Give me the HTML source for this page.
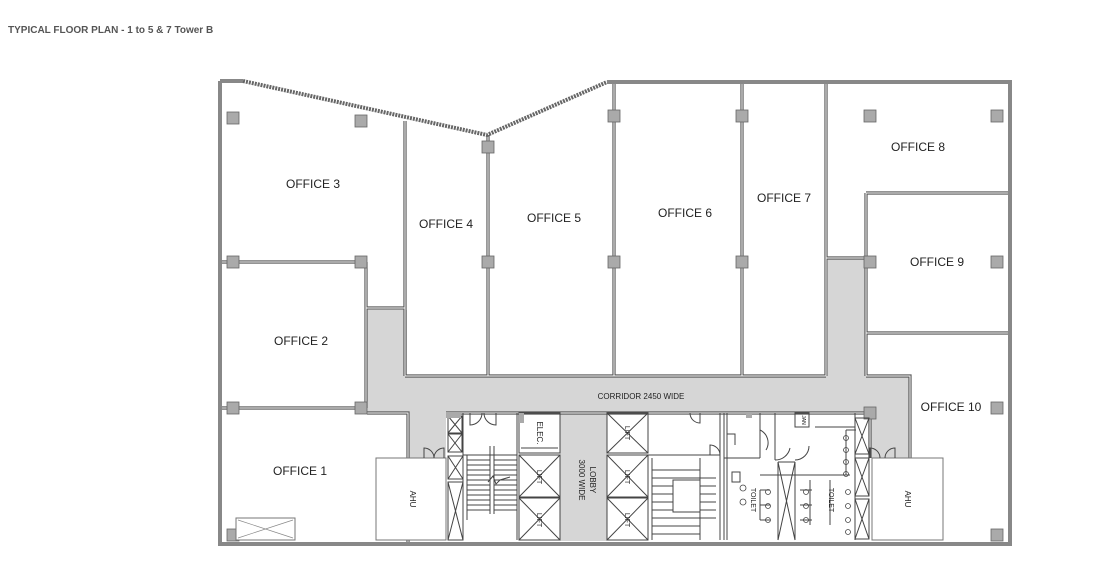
<!DOCTYPE html>
<html><head><meta charset="utf-8"><style>
html,body{margin:0;padding:0;background:#fff;width:1108px;height:582px;overflow:hidden}
svg{display:block}
text{font-family:"Liberation Sans",sans-serif;fill:#222}
</style></head><body>
<svg width="1108" height="582" viewBox="0 0 1108 582" xmlns="http://www.w3.org/2000/svg">
<text x="8" y="33" style="font-size:10px;font-weight:bold;fill:#555">TYPICAL FLOOR PLAN - 1 to 5 &amp; 7 Tower B</text>

<!-- grey corridor -->
<g fill="#d6d6d6">
<rect x="367" y="310" width="40" height="103"/>
<rect x="367" y="376" width="543" height="37"/>
<rect x="408" y="413" width="38" height="45"/>
<rect x="828" y="258" width="38" height="118"/>
<rect x="870" y="376" width="40" height="82"/>
<rect x="560" y="413" width="47" height="128"/>
</g>

<!-- interior walls double -->
<g stroke="#555" stroke-width="3.2" fill="none">
<path d="M220 262H361M220 408H361M366 262V408M366 308H405M405 121V376M488 135V376M614 84V376M742 84V376M826 84V376M826 258H866M866 193H1010M866 193V376M866 333H1010M405 376H826M866 376H910V458M367 413H408V544M446 413H870V458"/>
</g>
<g stroke="#fff" stroke-width="1" fill="none">
<path d="M220 262H361M220 408H361M366 262V408M366 308H405M405 121V376M488 135V376M614 84V376M742 84V376M826 84V376M826 258H866M866 193H1010M866 193V376M866 333H1010M405 376H826M866 376H910V458M367 413H408V544M446 413H870V458"/>
</g>

<!-- outer walls -->
<g stroke="#888" stroke-width="4" fill="none">
<path d="M220 81V544H1010V82H607"/>
<path d="M220 81H243"/>
</g>
<g stroke="#666" stroke-width="4" fill="none" stroke-dasharray="2 1">
<path d="M243 81L487 135L607 82"/>
</g>

<!-- columns -->
<g fill="#aaa" stroke="#666" stroke-width="0.8">
<rect x="227" y="112" width="12" height="12"/><rect x="355" y="115" width="12" height="12"/>
<rect x="227" y="256" width="12" height="12"/><rect x="355" y="256" width="12" height="12"/>
<rect x="227" y="402" width="12" height="12"/><rect x="355" y="402" width="12" height="12"/>
<rect x="227" y="529" width="12" height="12"/>
<rect x="482" y="141" width="12" height="12"/><rect x="482" y="256" width="12" height="12"/>
<rect x="608" y="110" width="12" height="12"/><rect x="608" y="256" width="12" height="12"/>
<rect x="736" y="110" width="12" height="12"/><rect x="736" y="256" width="12" height="12"/>
<rect x="864" y="110" width="12" height="12"/><rect x="991" y="110" width="12" height="12"/>
<rect x="864" y="256" width="12" height="12"/><rect x="991" y="256" width="12" height="12"/>
<rect x="864" y="407" width="12" height="12"/><rect x="991" y="402" width="12" height="12"/>
<rect x="991" y="529" width="12" height="12"/>
</g>

<!-- AHUs -->
<g fill="#fff" stroke="#777" stroke-width="1">
<rect x="376" y="458" width="70" height="82"/>
<rect x="872" y="458" width="71" height="82"/>
<rect x="236" y="518" width="59" height="22"/>
</g>
<path d="M238 520L293 538M238 538L293 520" stroke="#888" stroke-width="0.7"/>
<text transform="translate(410,499) rotate(90)" text-anchor="middle" style="font-size:8px">AHU</text>
<text transform="translate(905,499) rotate(90)" text-anchor="middle" style="font-size:8px">AHU</text>

<!-- core left -->
<g fill="none" stroke="#444" stroke-width="1">
<rect x="448" y="416" width="14" height="17"/><rect x="448" y="434" width="14" height="18"/>
<rect x="448" y="456" width="15" height="23"/><rect x="448" y="482" width="15" height="58"/>
<path d="M448 416L462 433M462 416L448 433M448 434L462 452M462 434L448 452M448 456L463 479M463 456L448 479M448 482L463 540M463 482L448 540"/>
<path d="M463 413V540M490 446V514M494 446V514M517 413V540M463 455H517"/>
<path d="M467 455V520M467 460H490M467 465H490M467 470H490M467 475H490M467 480H490M467 485H490M467 490H490M467 495H490M467 500H490M467 505H490M467 510H490M494 460H517M494 465H517M494 470H517M494 475H517M494 480H517M494 485H517M494 490H517M494 495H517M494 500H517M494 505H517M494 510H517"/>
<path d="M488 482l5 -6l3 8l4 -4l10 -3"/>
<path d="M470 413v12a12 12 0 0 0 12 -12M496 413v12a12 12 0 0 1 -12 -12"/>
<path d="M424 458v-10a10 10 0 0 1 10 10M444 458v-10a10 10 0 0 0 -10 10"/>
<rect x="519" y="413" width="41" height="40"/>
<rect x="519" y="455" width="41" height="42"/><rect x="519" y="498" width="41" height="42"/>
<path d="M519 455L560 497M560 455L519 497M519 498L560 540M560 498L519 540M521 448H558"/>
<rect x="607" y="413" width="41" height="40"/><rect x="607" y="455" width="41" height="42"/><rect x="607" y="498" width="41" height="42"/>
<path d="M607 413L648 453M648 413L607 453M607 455L648 497M648 455L607 497M607 498L648 540M648 498L607 540"/>
</g>
<g fill="#aaa"><rect x="446" y="413" width="15" height="5"/><rect x="519" y="413" width="5" height="10"/></g>
<text transform="translate(537,433) rotate(90)" text-anchor="middle" style="font-size:8px">ELEC.</text>
<text transform="translate(537,477) rotate(90)" text-anchor="middle" style="font-size:7px">LIFT</text>
<text transform="translate(537,520) rotate(90)" text-anchor="middle" style="font-size:7px">LIFT</text>
<text transform="translate(625,433) rotate(90)" text-anchor="middle" style="font-size:7px">LIFT</text>
<text transform="translate(625,477) rotate(90)" text-anchor="middle" style="font-size:7px">LIFT</text>
<text transform="translate(625,520) rotate(90)" text-anchor="middle" style="font-size:7px">LIFT</text>
<text transform="translate(590,480) rotate(90)" text-anchor="middle" style="font-size:8px">LOBBY</text>
<text transform="translate(579,480) rotate(90)" text-anchor="middle" style="font-size:8px">3000 WIDE</text>

<!-- core right -->
<g fill="none" stroke="#444" stroke-width="1">
<path d="M648 455H720M720 413V540M652 458V540M700 458V540M652 470H700M652 478H700M652 486H700M652 494H700M652 502H700M652 510H700M652 518H700M652 526H700M652 534H700M700 478H716M700 486H716M700 494H716M700 502H716M700 510H716M700 518H716"/>
<rect x="673" y="480" width="27" height="32" fill="#fff"/>
<path d="M700 413v10a10 10 0 0 1 -10 -10M710 455v-10a10 10 0 0 1 10 10"/>
<path d="M724 413V540M727 413V540M724 458H760M727 434H735V445M760 413V458"/>
<rect x="732" y="472" width="8" height="10"/>
<path d="M760 430a14 14 0 0 1 6 20"/>
<path d="M775 413V460M775 460a15 15 0 0 0 15 -12M778 462V540M795 462V540M778 462L795 540M795 462L778 540M778 462H795"/>
<rect x="795" y="413" width="14" height="14"/>
<path d="M815 427H855M795 460a14 14 0 0 0 14 -14M855 413V540M846 430V475M846 430H856"/>
<path d="M760 475H850M760 490V520M760 490H770M760 505H770M760 520H770M810 480V525M800 490H812M800 505H812M800 520H812M830 480V525"/>
<rect x="855" y="418" width="14" height="36"/><rect x="855" y="458" width="14" height="38"/><rect x="855" y="499" width="14" height="40"/>
<path d="M855 418L869 454M869 418L855 454M855 458L869 496M869 458L855 496M855 499L869 539M869 499L855 539"/>
<path d="M870 458v-10a10 10 0 0 1 10 10M895 458v-10a10 10 0 0 0 -10 10"/>
</g>
<g fill="none" stroke="#444" stroke-width="0.8">
<circle cx="743" cy="488" r="3"/><circle cx="743" cy="502" r="3"/>
<circle cx="768" cy="492" r="2.5"/><circle cx="768" cy="506" r="2.5"/><circle cx="768" cy="520" r="2.5"/>
<circle cx="806" cy="492" r="2.5"/><circle cx="806" cy="506" r="2.5"/><circle cx="806" cy="520" r="2.5"/>
<circle cx="846" cy="438" r="2.5"/><circle cx="846" cy="450" r="2.5"/><circle cx="846" cy="462" r="2.5"/><circle cx="846" cy="474" r="2.5"/>
<circle cx="848" cy="492" r="2.5"/><circle cx="848" cy="506" r="2.5"/><circle cx="848" cy="520" r="2.5"/><circle cx="848" cy="532" r="2.5"/>
</g>
<text transform="translate(751,500) rotate(90)" text-anchor="middle" style="font-size:7px">TOILET</text>
<text transform="translate(829,500) rotate(90)" text-anchor="middle" style="font-size:7px">TOILET</text>
<text transform="translate(802,420) rotate(90)" text-anchor="middle" style="font-size:5px">JAN</text>
<rect x="746" y="413" width="6" height="5" fill="#aaa"/>

<!-- labels -->
<g style="font-size:12px" text-anchor="middle">
<text x="313" y="188">OFFICE 3</text>
<text x="446" y="228">OFFICE 4</text>
<text x="554" y="222">OFFICE 5</text>
<text x="685" y="217">OFFICE 6</text>
<text x="784" y="202">OFFICE 7</text>
<text x="918" y="151">OFFICE 8</text>
<text x="937" y="266">OFFICE 9</text>
<text x="951" y="411">OFFICE 10</text>
<text x="301" y="345">OFFICE 2</text>
<text x="300" y="475">OFFICE 1</text>
</g>
<text x="641" y="399" text-anchor="middle" style="font-size:8px">CORRIDOR 2450 WIDE</text>
</svg>
</body></html>
